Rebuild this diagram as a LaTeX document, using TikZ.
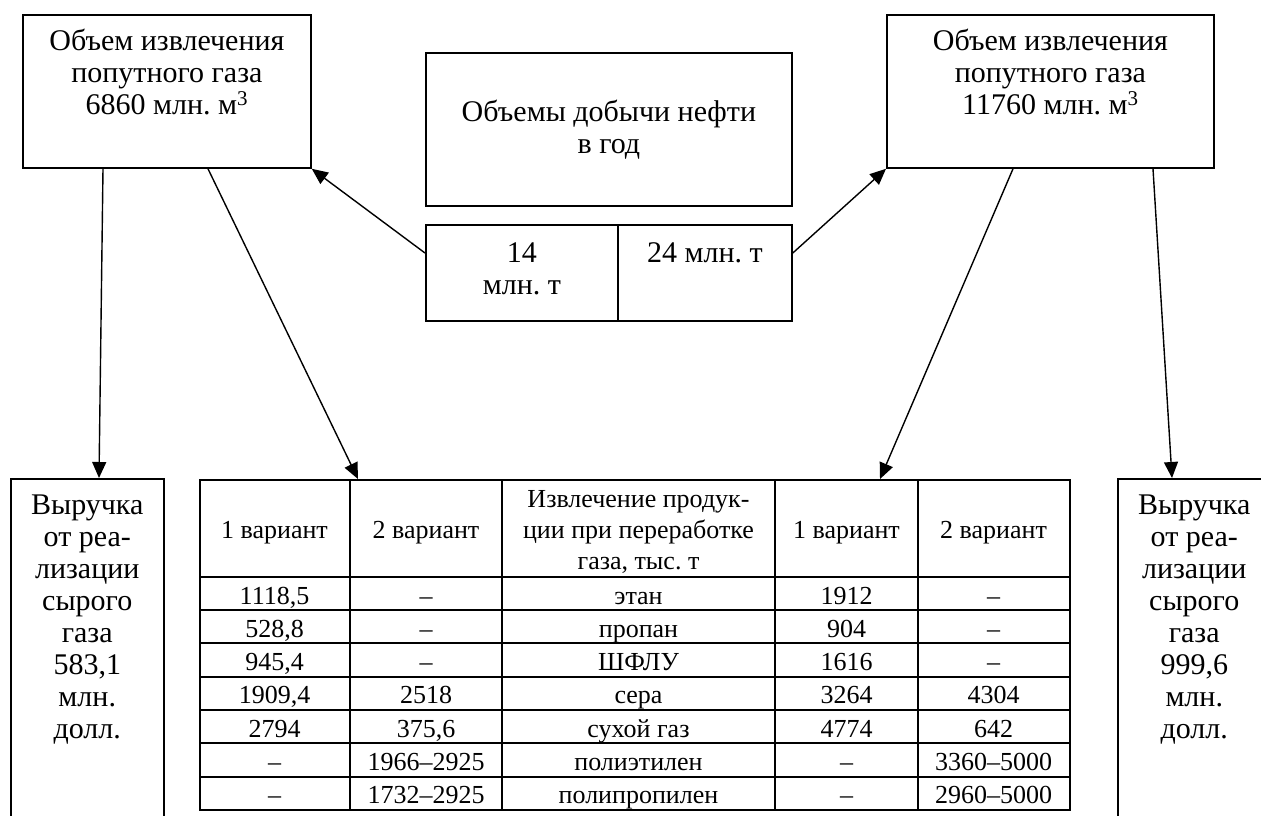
\documentclass[tikz,border=0pt]{standalone}
\usepackage{fontspec}
\setmainfont{Liberation Serif}
\usetikzlibrary{positioning,arrows.meta}

\tikzset{
  box/.style={draw, line width=1.8pt, inner sep=0pt, anchor=north west},
  txt/.style={align=center, inner sep=0pt, font=\fontsize{30}{32}\selectfont},
  hcell/.style={align=center, inner sep=0pt, font=\fontsize{26}{31}\selectfont},
  cell/.style={inner sep=0pt, font=\fontsize{26}{31}\selectfont, text height=22pt, text depth=0pt},
  tabline/.style={line width=1.8pt},
  arr/.style={-{Triangle[length=16pt,width=14pt]}, line width=1.4pt},
}

\begin{document}
\begin{tikzpicture}[x=1pt,y=-1pt]
  \useasboundingbox (0,0) rectangle (1261,816);
  \clip (0,0) rectangle (1261,816);

  % добыча нефти
  \node[box, txt, minimum width=366, minimum height=153] (oil) at (425,52) {Объемы добычи нефти\\в год};
  \node[box, minimum width=192, minimum height=96] (oilA) at (425,224) {};
  \node[box, minimum width=174, minimum height=96] (oilB) at (617,224) {};
  \node[txt, below=18pt of oilA.north] (oilAt) {14\\млн.~т};
  \node[txt, below=18pt of oilB.north] (oilBt) {24 млн.~т};

  % попутный газ
  \node[box, minimum width=288, minimum height=153] (gasL) at (22,14) {};
  \node[txt, below=15pt of gasL.north] (gasLt) {Объем извлечения\\попутного газа\\6860 млн.~м\textsuperscript{3}};
  \node[box, minimum width=327, minimum height=153] (gasR) at (886,14) {};
  \node[txt, below=15pt of gasR.north] (gasRt) {Объем извлечения\\попутного газа\\11760 млн.~м\textsuperscript{3}};

  % выручка
  \node[box, line width=1.5pt, minimum width=153, minimum height=360] (revL) at (10,478) {};
  \node[txt, below=17pt of revL.north] (revLt) {Выручка\\от реа-\\лизации\\сырого\\газа\\583,1\\млн.\\долл.};
  \node[box, line width=1.5pt, minimum width=153, minimum height=360] (revR) at (1117,478) {};
  \node[txt, below=17pt of revR.north] (revRt) {Выручка\\от реа-\\лизации\\сырого\\газа\\999,6\\млн.\\долл.};

  % таблица
  \node[box, minimum width=870, minimum height=330] (tab) at (199,479) {};
  \foreach \x in {350,502,775,918}
    \draw[tabline] (\x,479) -- (\x,809);
  \foreach \y in {577,610,643,677,710,743,777}
    \draw[tabline] (199,\y) -- (1069,\y);

  \node[cell] (h1) at (274.5,527.5) {1 вариант};
  \node[cell] (h2) at (426,527.5) {2 вариант};
  \node[hcell] (h3) at (638.5,532) {Извлечение продук-\\ции при переработке\\газа, тыс.~т};
  \node[cell] (h4) at (846.5,527.5) {1 вариант};
  \node[cell] (h5) at (993.5,527.5) {2 вариант};

  \foreach \a/\b/\c/\d/\e [count=\r] in {
      {1118,5}/–/этан/1912/–,
      {528,8}/–/пропан/904/–,
      {945,4}/–/ШФЛУ/1616/–,
      {1909,4}/2518/сера/3264/4304,
      2794/{375,6}/сухой газ/4774/642,
      –/1966–2925/полиэтилен/–/3360–5000,
      –/1732–2925/полипропилен/–/2960–5000} {
    \pgfmathsetmacro\yy{593.5+33.14*(\r-1)}
    \node[cell] (r\r-1) at (274.5,\yy) {\a};
    \node[cell] (r\r-2) at (426,\yy) {\b};
    \node[cell] (r\r-3) at (638.5,\yy) {\c};
    \node[cell] (r\r-4) at (846.5,\yy) {\d};
    \node[cell] (r\r-5) at (993.5,\yy) {\e};
  }

  % стрелки
  \draw[arr] ([yshift=-29pt]oilA.north west) -- (gasL.south east);
  \draw[arr] ([yshift=-29pt]oilB.north east) -- (gasR.south west);
  \draw[arr] ([xshift=81pt]gasL.south west) -- ([xshift=89pt]revL.north west);
  \draw[arr] ([xshift=186pt]gasL.south west) -- ([xshift=159pt]tab.north west);
  \draw[arr] ([xshift=127pt]gasR.south west) -- ([xshift=681pt]tab.north west);
  \draw[arr] ([xshift=267pt]gasR.south west) -- ([xshift=55pt]revR.north west);
\end{tikzpicture}
\end{document}
